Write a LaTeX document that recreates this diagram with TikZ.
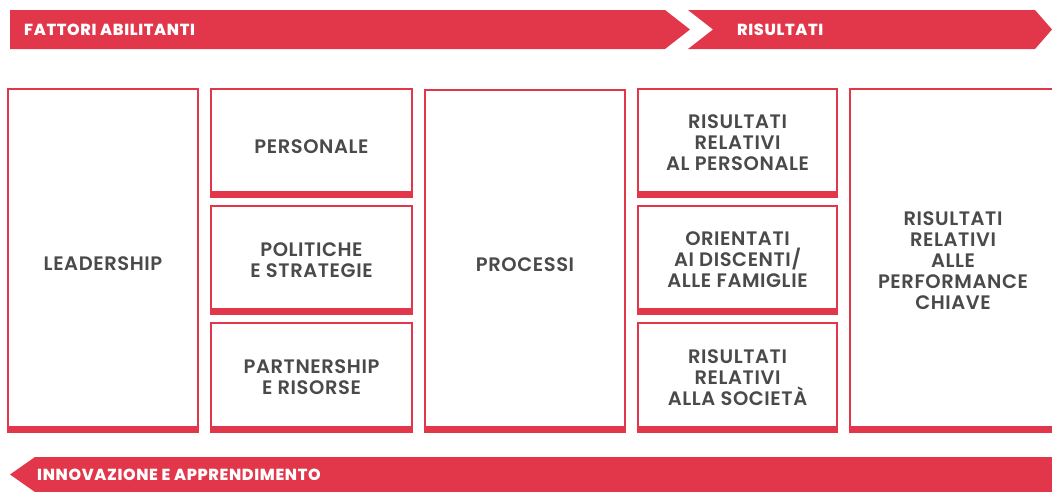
\documentclass[tikz,border=0pt]{standalone}
\usepackage{fontspec}
\setmainfont{Poppins}
\newfontfamily\boxfont{Poppins}[LetterSpace=3,BoldFont={Poppins SemiBold}]
\newfontfamily\bandfont{Poppins}[LetterSpace=4,BoldFont={Poppins ExtraBold}]
\definecolor{efqm}{HTML}{E2374A}
\definecolor{txt}{HTML}{4A4A4A}
\begin{document}
\begin{tikzpicture}[x=1pt,y=-1pt,
  box/.style={draw=efqm,line width=1.1pt,fill=white,align=center,text=txt,
    font=\boxfont\fontsize{19.5}{21}\selectfont\bfseries,inner sep=0pt},
  lbl/.style={align=center,text=txt,font=\boxfont\fontsize{19.5}{21}\selectfont\bfseries,inner sep=0pt,yshift=-3.5pt},
  band/.style={fill=efqm},
  bandtxt/.style={text=white,font=\bandfont\fontsize{16}{18}\selectfont\bfseries,anchor=west,inner sep=0pt}]
\useasboundingbox (0,0) rectangle (1052,491);
% top bands
\fill[band] (10,10) -- (665,10) -- (690,29.5) -- (665,49) -- (10,49) -- cycle;
\fill[band] (688,10) -- (1035,10) -- (1052,29.5) -- (1035,49) -- (688,49) -- (713,29.5) -- cycle;
\node[bandtxt] (fa) at (24,29.5) {FATTORI ABILITANTI};
\node[bandtxt] (ri) at (737,29.5) {RISULTATI};
% bottom band
\fill[band] (35,457) -- (1054,457) -- (1054,492) -- (35,492) -- (10,474.5) -- cycle;
\node[bandtxt] (ia) at (37,474.5) {INNOVAZIONE E APPRENDIMENTO};
% boxes
\node[box,minimum width=190pt,minimum height=343pt,label={[lbl]center:LEADERSHIP}] (lead) at (103,260.5) {};
\node[box,minimum width=201pt,minimum height=108pt,label={[lbl]center:PERSONALE}] (pers) at (311.5,143) {};
\node[box,minimum width=201pt,minimum height=108pt] (pol) at (311.5,260) {POLITICHE\\E STRATEGIE};
\node[box,minimum width=201pt,minimum height=109pt] (part) at (311.5,377.5) {PARTNERSHIP\\E RISORSE};
\node[box,minimum width=200pt,minimum height=342pt,label={[lbl]center:PROCESSI}] (proc) at (525,261) {};
\node[box,minimum width=199pt,minimum height=108pt] (rp) at (737.5,143) {RISULTATI\\RELATIVI\\AL PERSONALE};
\node[box,minimum width=199pt,minimum height=108pt] (rd) at (737.5,260) {ORIENTATI\\AI DISCENTI/\\ALLE FAMIGLIE};
\node[box,minimum width=199pt,minimum height=109pt] (rs) at (737.5,377.5) {RISULTATI\\RELATIVI\\ALLA SOCIETÀ};
\node[box,minimum width=206pt,minimum height=343pt] (rk) at (953,260.5) {RISULTATI\\RELATIVI\\ALLE\\PERFORMANCE\\CHIAVE};
\foreach \n in {lead,pers,pol,part,proc,rp,rd,rs,rk}
  \fill[efqm] (\n.south west) rectangle ([yshift=6.5pt]\n.south east);
\end{tikzpicture}
\end{document}
